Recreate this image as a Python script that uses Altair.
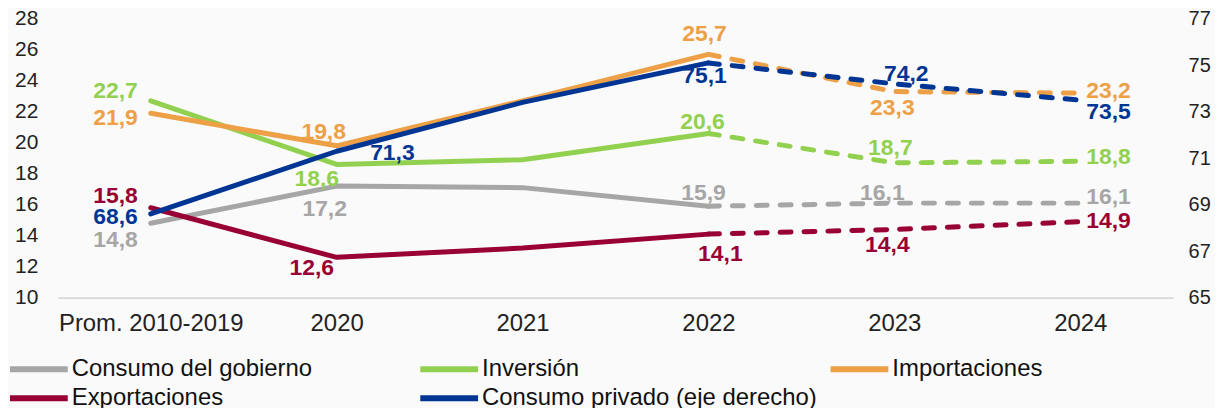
import altair as alt
import pandas as pd

categories = ["Prom. 2010-2019", "2020", "2021", "2022", "2023", "2024"]
series_left = ["Consumo del gobierno", "Inversión", "Importaciones", "Exportaciones"]
series_right = "Consumo privado (eje derecho)"
legend_order = ["Consumo del gobierno", "Inversión", "Importaciones", "Exportaciones",
                "Consumo privado (eje derecho)"]

gobierno = [14.8, 17.2, 17.1, 15.9, 16.1, 16.1]
inversion = [22.7, 18.6, 18.9, 20.6, 18.7, 18.8]
importaciones = [21.9, 19.8, 22.7, 25.7, 23.3, 23.2]
exportaciones = [15.8, 12.6, 13.2, 14.1, 14.4, 14.9]
privado = [68.6, 71.3, 73.4, 75.1, 74.2, 73.5]

# which points carry a data label (2021 is unlabeled)
labeled = ["Prom. 2010-2019", "2020", "2022", "2023", "2024"]

colors = ["#A6A6A6", "#92D050", "#EDA046", "#990033", "#003594"]
color_map = dict(zip(legend_order, colors))

rows = []
for name, vals in zip(legend_order, [gobierno, inversion, importaciones, exportaciones, privado]):
    for c, v in zip(categories, vals):
        rows.append({"cat": c, "series": name, "value": v,
                     "label": f"{v:.1f}".replace(".", ",")})
df = pd.DataFrame(rows)

solid_cats = categories[:4]
dash_cats = categories[3:]

FONT = "Liberation Sans"
W, H = 1120, 280

x_enc = alt.X("cat:N", sort=categories, scale=alt.Scale(type="point", padding=0.5),
              axis=alt.Axis(title=None, labelAngle=0, labelFontSize=24, labelFont=FONT,
                            labelColor="#222222", ticks=False, labelPadding=14, labelLimit=400,
                            domainColor="#D9D9D9", domainWidth=2, grid=False))
color_enc = alt.Color("series:N", scale=alt.Scale(domain=legend_order, range=colors),
                      legend=alt.Legend(title=None, orient="none", legendX=-32, legendY=339,
                                        direction="horizontal",
                                        columns=3, gridAlign="all", columnPadding=0,
                                        rowPadding=4, symbolType="M-3,0H3", symbolSize=374,
                                        symbolStrokeWidth=6, labelFontSize=24, labelFont=FONT,
                                        labelColor="#111111", labelOffset=20, labelLimit=500,
                                        padding=0))

yl = alt.Y("value:Q", scale=alt.Scale(domain=[10, 28], nice=False, zero=False),
           axis=alt.Axis(title=None, values=list(range(10, 29, 2)), grid=False, domain=False,
                         ticks=False, labelFontSize=21, labelFont=FONT, labelColor="#222222",
                         labelPadding=20))
yr = alt.Y("value:Q", scale=alt.Scale(domain=[65, 77], nice=False, zero=False),
           axis=alt.Axis(title=None, orient="right", values=list(range(65, 78, 2)), grid=False,
                         domain=False, ticks=False, labelFontSize=20, labelFont=FONT,
                         labelColor="#222222", labelPadding=15))

base = alt.Chart(df)
left_df = base.transform_filter(alt.FieldOneOfPredicate(field="series", oneOf=series_left))
right_df = base.transform_filter(alt.datum.series == series_right)

def lines(src, y):
    solid = src.transform_filter(alt.FieldOneOfPredicate(field="cat", oneOf=solid_cats)).mark_line(
        strokeWidth=5, strokeCap="round", strokeJoin="round").encode(x=x_enc, y=y, color=color_enc,
                                                                      detail="series:N")
    dashed = src.transform_filter(alt.FieldOneOfPredicate(field="cat", oneOf=dash_cats)).mark_line(
        strokeWidth=5, strokeCap="round", strokeDash=[11, 13]).encode(x=x_enc, y=y, color=color_enc,
                                                                       detail="series:N")
    return solid, dashed

# label placement (dx, dy, align) per series / category
placement = {
    ("Consumo del gobierno", "Prom. 2010-2019"): (-13, 17, "right"),
    ("Inversión", "Prom. 2010-2019"): (-13, -10, "right"),
    ("Importaciones", "Prom. 2010-2019"): (-13, 5, "right"),
    ("Exportaciones", "Prom. 2010-2019"): (-13, -12, "right"),
    ("Consumo privado (eje derecho)", "Prom. 2010-2019"): (-13, 3, "right"),
    ("Consumo del gobierno", "2020"): (-12, 23, "center"),
    ("Inversión", "2020"): (-20, 15, "center"),
    ("Importaciones", "2020"): (-13, -14, "center"),
    ("Exportaciones", "2020"): (-25, 11, "center"),
    ("Consumo privado (eje derecho)", "2020"): (56, 2, "center"),
    ("Consumo del gobierno", "2022"): (-5, -13, "center"),
    ("Inversión", "2022"): (-6, -11, "center"),
    ("Importaciones", "2022"): (-4, -20, "center"),
    ("Exportaciones", "2022"): (12, 20, "center"),
    ("Consumo privado (eje derecho)", "2022"): (-4, 13, "center"),
    ("Consumo del gobierno", "2023"): (-12, -10, "center"),
    ("Inversión", "2023"): (-4, -15, "center"),
    ("Importaciones", "2023"): (-2, 17, "center"),
    ("Exportaciones", "2023"): (-7, 16, "center"),
    ("Consumo privado (eje derecho)", "2023"): (12, -10, "center"),
    ("Consumo del gobierno", "2024"): (6, -6, "left"),
    ("Inversión", "2024"): (6, -4, "left"),
    ("Importaciones", "2024"): (6, -2, "left"),
    ("Exportaciones", "2024"): (6, -1, "left"),
    ("Consumo privado (eje derecho)", "2024"): (6, 12, "left"),
}

left_labels = []
right_labels = []
for name in legend_order:
    for c in labeled:
        dx, dy, al = placement[(name, c)]
        is_right = name == series_right
        t = base.transform_filter((alt.datum.series == name) & (alt.datum.cat == c)).mark_text(
            font=FONT, fontSize=23, fontWeight="bold", dx=dx, dy=dy, align=al,
            baseline="middle", color=color_map[name]).encode(
            x=x_enc, y=(yr if is_right else yl), text="label:N")
        (right_labels if is_right else left_labels).append(t)

ls, ld = lines(left_df, yl)
rs, rd = lines(right_df, yr)

left = alt.layer(ls, ld, *left_labels)
right = alt.layer(rs, rd, *right_labels)

chart = alt.layer(left, right).resolve_scale(y="independent").properties(
    width=W, height=H,
    autosize=alt.AutoSizeParams(type="none"),
    padding={"left": 50, "top": 10, "right": 42, "bottom": 110},
    background="#FAFAFA",
).configure_view(stroke=None)

chart.save("out.html", embed_options={"renderer": "svg", "actions": False})
